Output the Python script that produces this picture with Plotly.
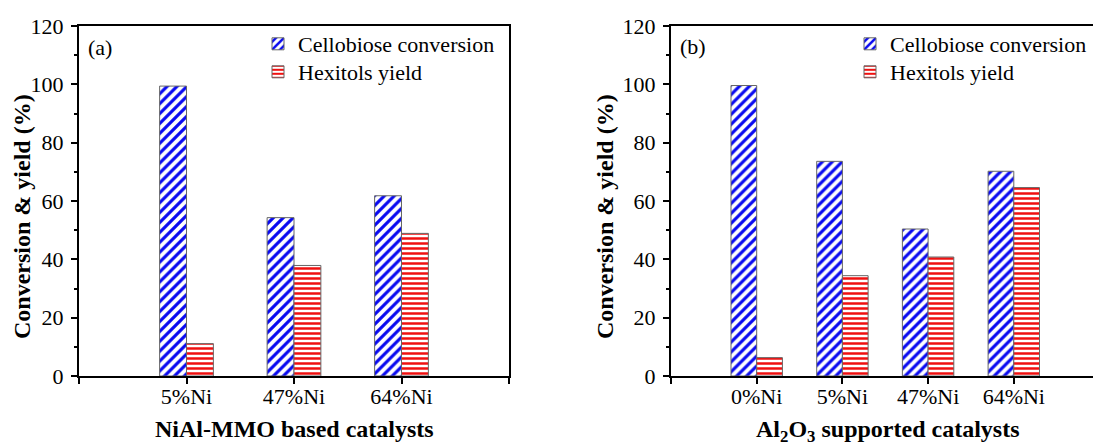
import plotly.graph_objects as go

# ---- data ----
cats_a = ["5%Ni", "47%Ni", "64%Ni"]
conv_a = [99.4, 54.3, 61.8]
yield_a = [11.1, 37.9, 48.9]

cats_b = ["0%Ni", "5%Ni", "47%Ni", "64%Ni"]
conv_b = [99.6, 73.6, 50.4, 70.2]
yield_b = [6.3, 34.4, 40.8, 64.6]

series_names = ["Cellobiose conversion", "Hexitols yield"]
y_ticks = [0, 20, 40, 60, 80, 100, 120]

W, H = 1093, 445
FONT = "Liberation Serif"
BLUE = "#0a0af0"
RED = "#f01010"
EDGE = "#666666"


def px_x(p):
    return p / W


def px_y(p):
    return 1 - p / H


fig = go.Figure()


def add_panel(cats, conv, yld, xa, ya, legends, width):
    xs = [i + 1 for i in range(len(cats))]
    fig.add_trace(go.Bar(
        x=xs, y=conv, name=series_names[0], xaxis=xa, yaxis=ya, legend=legends[0],
        width=width, offset=-width,
        marker=dict(color="white", line=dict(color=EDGE, width=1),
                    pattern=dict(shape="/", fgcolor=BLUE, bgcolor="white",
                                 size=7, solidity=0.45, fillmode="replace")),
    ))
    fig.add_trace(go.Bar(
        x=xs, y=yld, name=series_names[1], xaxis=xa, yaxis=ya, legend=legends[1],
        width=width, offset=0,
        marker=dict(color="white", line=dict(color=EDGE, width=1),
                    pattern=dict(shape="-", fgcolor=RED, bgcolor="white",
                                 size=5, solidity=0.5, fillmode="replace")),
    ))


add_panel(cats_a, conv_a, yield_a, "x", "y", ("legend", "legend3"), 0.25)
add_panel(cats_b, conv_b, yield_b, "x2", "y2", ("legend2", "legend4"), 0.3)

tickfont = dict(family=FONT, size=22, color="black")

common_y = dict(
    range=[0, 120], tickvals=y_ticks, ticks="outside", ticklen=6, tickwidth=1.5,
    tickcolor="black", showline=True, linecolor="black", linewidth=2,
    showgrid=False, zeroline=False, tickfont=tickfont, automargin=False,
    ticklabelstandoff=3,
    minor=dict(ticks="outside", ticklen=3, tickwidth=1.5, tickcolor="black",
               dtick=10, showgrid=False),
)
common_x = dict(
    ticks="outside", ticklen=6, tickwidth=1.5, tickcolor="black",
    showline=True, linecolor="black", linewidth=2, showgrid=False,
    zeroline=False, tickfont=tickfont, automargin=False,
    ticklabelstandoff=-6,
    minor=dict(ticks="outside", ticklen=6, tickwidth=1.5, tickcolor="black",
               tick0=0, dtick=1, showgrid=False),
)

dom_y = [px_y(376), px_y(26)]


def legend_at(xp, yp):
    return dict(x=px_x(xp), y=px_y(yp), xanchor="left", yanchor="top",
                font=dict(family=FONT, size=22, color="black"),
                bgcolor="rgba(0,0,0,0)", tracegroupgap=0, itemwidth=30)


fig.update_layout(
    width=W, height=H, autosize=False,
    margin=dict(l=0, r=0, t=0, b=0),
    paper_bgcolor="white", plot_bgcolor="white",
    barmode="overlay",
    xaxis=dict(common_x, domain=[px_x(79), px_x(509)], range=[0, len(cats_a) + 1],
               tickvals=[i + 1 for i in range(len(cats_a))],
               ticktext=cats_a, mirror=True, anchor="y"),
    yaxis=dict(common_y, domain=dom_y, mirror=True, anchor="x"),
    xaxis2=dict(common_x, domain=[px_x(671), 1.0], range=[0, (1093 - 671) / 85.7],
                tickvals=[i + 1 for i in range(len(cats_b))],
                ticktext=cats_b, mirror=True, anchor="y2"),
    yaxis2=dict(common_y, domain=dom_y, mirror=False, anchor="x2"),
    legend=legend_at(258, 23),
    legend3=legend_at(258, 51),
    legend2=legend_at(850, 23),
    legend4=legend_at(850, 51),
    showlegend=True,
)

ann_font = dict(family=FONT, size=22, color="black")
title_font = dict(family=FONT, size=24, color="black")
fig.add_annotation(text="(a)", x=px_x(86), y=px_y(48), xref="paper", yref="paper",
                   xanchor="left", yanchor="middle", showarrow=False, font=ann_font)
fig.add_annotation(text="(b)", x=px_x(678), y=px_y(47), xref="paper", yref="paper",
                   xanchor="left", yanchor="middle", showarrow=False, font=ann_font)
fig.add_annotation(text="<b>Conversion &amp; yield (%)</b>", x=px_x(22), y=px_y(217),
                   xref="paper", yref="paper", textangle=-90, showarrow=False,
                   xanchor="center", yanchor="middle", font=title_font)
fig.add_annotation(text="<b>Conversion &amp; yield (%)</b>", x=px_x(605), y=px_y(217),
                   xref="paper", yref="paper", textangle=-90, showarrow=False,
                   xanchor="center", yanchor="middle", font=title_font)
fig.add_annotation(text="<b>NiAl-MMO based catalysts</b>", x=px_x(294), y=px_y(429),
                   xref="paper", yref="paper", showarrow=False,
                   xanchor="center", yanchor="middle", font=title_font)
fig.add_annotation(text="<b>Al<sub>2</sub>O<sub>3</sub> supported catalysts</b>",
                   x=px_x(887), y=px_y(431), xref="paper", yref="paper",
                   showarrow=False, xanchor="center", yanchor="middle", font=title_font)

fig.write_html("out.html")
